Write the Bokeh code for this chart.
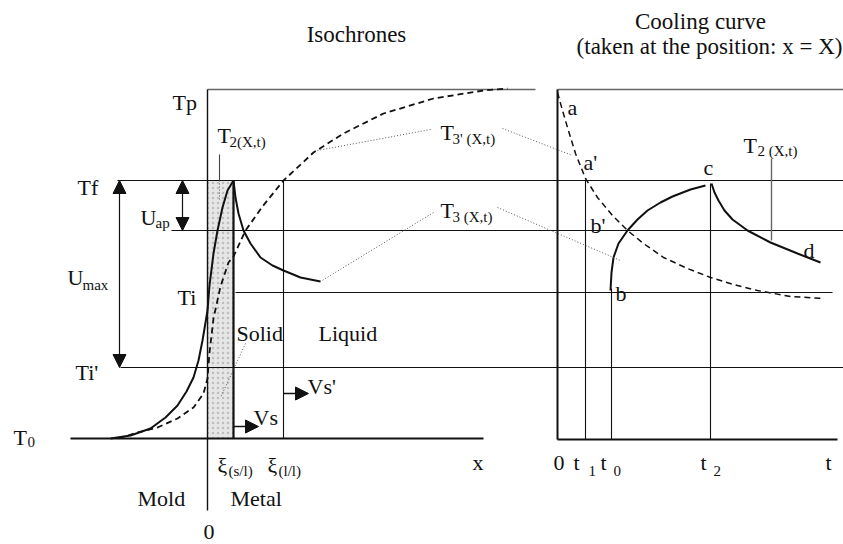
from bokeh.plotting import figure
from bokeh.models import Range1d, Arrow, NormalHead, ColumnDataSource
from bokeh.core.properties import value
from bokeh.embed import file_html
from bokeh.resources import INLINE

# ---------------------------------------------------------------------------
# Diagram data (screen-like units: x to the right, y downwards)
# ---------------------------------------------------------------------------
# temperature levels
y_Tp, y_Tf, y_Uap, y_Ti, y_Ti2, y_T0 = 89, 180, 230, 292, 367, 438
y_T0_right = 439

# positions on the isochrone panel
x_zero = 207          # mold / metal interface (x = 0)
x_sl = 233            # solid / liquid front
x_ll = 283            # liquid / liquid front
x_mark_left = 219     # position X of the T2 reading

# positions on the cooling-curve panel
x_origin = 557
x_t1, x_t0, x_t2 = 585, 611, 710
x_mark_right = 771

# isochrone T2(X,t): mold and solid shell
iso_t2_x = [110, 130, 150, 165, 177, 186, 193, 198, 202, 207, 209, 213, 217, 222, 227, 233]
iso_t2_y = [438, 435, 428, 417, 405, 391, 377, 360, 340, 310, 285, 253, 230, 207, 190, 180]

# isochrone T3'(X,t): dashed, rising to the pouring temperature
iso_t3p_x = [118, 137, 157, 177, 193, 203, 207, 209, 213, 220, 228, 233, 245, 262, 283, 313, 343, 383, 433, 483, 507]
iso_t3p_y = [438, 432, 427, 418, 407, 393, 378, 352, 318, 286, 262, 256, 230, 206, 180, 152, 133, 113, 98, 90, 88]

# isochrone T3(X,t): liquid ahead of the front
iso_t3_x = [233, 235, 238, 243, 250, 260, 272, 283, 300, 320]
iso_t3_y = [180, 197, 213, 230, 243, 257, 265, 270, 277, 281]

# cooling curve: dashed a -> a' -> b'
cool_a_x = [557, 562, 567, 575, 585, 597, 612, 627, 643, 663, 687, 710, 733, 757, 790, 823]
cool_a_y = [92, 110, 127, 153, 178, 197, 215, 230, 243, 257, 268, 277, 284, 290, 296, 298]

# cooling curve: b -> c (recalescence)
cool_bc_x = [610, 611, 613, 618, 627, 637, 647, 660, 672, 690, 705]
cool_bc_y = [290, 272, 257, 243, 230, 219, 210, 202, 196, 189, 185]

# cooling curve: c -> d
cool_cd_x = [711, 714, 718, 724, 732, 747, 770, 797, 820]
cool_cd_y = [183, 192, 200, 210, 219, 230, 242, 253, 262]

# ---------------------------------------------------------------------------
W, H = 843, 544
p = figure(width=W, height=H, x_range=Range1d(0, W), y_range=Range1d(H, 0),
           x_axis_type=None, y_axis_type=None, toolbar_location=None,
           output_backend="svg", min_border=0, outline_line_color=None,
           background_fill_color="white", border_fill_color="white")
p.grid.visible = False

BLACK = "#111111"
GREY = "#666666"
FONT = "'Liberation Serif', 'Times New Roman', 'DejaVu Serif', serif"

# solid shell band
p.quad(left=x_zero, right=x_sl, top=y_Tf, bottom=y_T0,
       fill_color="#e6e6e6", line_color=None,
       hatch_pattern=".", hatch_color="#9a9a9a", hatch_alpha=0.55, hatch_scale=5)

# horizontal reference levels
h_x0 = [x_zero, x_origin, 117, 171, 235, 120]
h_x1 = [535, 843, 843, 843, 832, 843]
h_y = [y_Tp, y_Tp, y_Tf, y_Uap, y_Ti, y_Ti2]
h_col = [GREY, GREY, BLACK, BLACK, BLACK, BLACK]
h_w = [1.6, 1.6, 1.2, 1.2, 1.2, 1.2]
p.segment(x0=h_x0, y0=h_y, x1=h_x1, y1=h_y, line_color=h_col, line_width=h_w)

# baselines (T0)
p.segment(x0=[70, x_origin], y0=[y_T0, y_T0_right], x1=[483, 837], y1=[y_T0, y_T0_right],
          line_color=BLACK, line_width=2)

# vertical lines
v_x = [x_zero, x_sl, x_ll, x_mark_left, x_origin, x_t1, x_t0, x_t2, x_mark_right]
v_y0 = [y_Tp, y_Tf, y_Tf, 154, y_Tp, y_Tf, 288, 183, 158]
v_y1 = [510, y_T0, y_T0, y_Tf, y_T0_right, y_T0_right, y_T0_right, y_T0_right, 240]
v_col = [BLACK, BLACK, BLACK, "#444444", BLACK, BLACK, BLACK, BLACK, GREY]
v_w = [1.4, 2.2, 1.1, 1.1, 2.0, 1.1, 1.1, 1.1, 1.4]
p.segment(x0=v_x, y0=v_y0, x1=v_x, y1=v_y1, line_color=v_col, line_width=v_w)

# curves
p.line(iso_t2_x, iso_t2_y, line_color=BLACK, line_width=2)
p.line(iso_t3p_x, iso_t3p_y, line_color=BLACK, line_width=1.8, line_dash="6 4")
p.line(iso_t3_x, iso_t3_y, line_color=BLACK, line_width=2)
p.line(cool_a_x, cool_a_y, line_color=BLACK, line_width=1.5, line_dash="6 4")
p.line(cool_bc_x, cool_bc_y, line_color=BLACK, line_width=2)
p.line(cool_cd_x, cool_cd_y, line_color=BLACK, line_width=2)

# dotted leader lines
lead_x0 = [430, 502, 433, 497, 245, x_mark_left]
lead_y0 = [129, 128, 212, 207, 343, y_Tf]
lead_x1 = [317, 572, 320, 620, 220, x_mark_left]
lead_y1 = [150, 155, 281, 260, 397, 200]
p.segment(x0=lead_x0, y0=lead_y0, x1=lead_x1, y1=lead_y1,
          line_color="#555555", line_width=1, line_dash="1 2")

# arrows
def head():
    return NormalHead(size=13, fill_color=BLACK, line_color=BLACK, line_width=1)

p.add_layout(Arrow(x_start=119, y_start=y_Tf, x_end=119, y_end=y_Ti2,
                   start=head(), end=head(), line_color=BLACK, line_width=1.2))
p.add_layout(Arrow(x_start=182, y_start=y_Tf, x_end=182, y_end=y_Uap,
                   start=head(), end=head(), line_color=BLACK, line_width=1.2))
p.add_layout(Arrow(x_start=x_sl, y_start=426, x_end=x_sl + 25, y_end=426,
                   end=head(), line_color=BLACK, line_width=1.5))
p.add_layout(Arrow(x_start=x_ll, y_start=393, x_end=x_ll + 25, y_end=393,
                   end=head(), line_color=BLACK, line_width=1.5))

# ---------------------------------------------------------------------------
# texts
# ---------------------------------------------------------------------------
def put(xs, ys, texts, size, align="left"):
    src = ColumnDataSource(dict(x=xs, y=ys, t=texts))
    p.text(x="x", y="y", text="t", source=src, text_font=value(FONT),
           text_font_size=value(size), text_color=BLACK,
           text_align=align, text_baseline="alphabetic")

# titles
put([356, 700], [34, 21], ["Isochrones", "Cooling curve"], "23px", "center")
put([842], [46], ["(taken at the position: x = X)"], "23px", "right")

# main labels
main_t = ["Tp", "Tf", "Ti", "Ti'", "T", "U", "U", "T", "T", "T",
          "Solid", "Liquid", "Vs", "Vs'", "ξ", "ξ", "x", "Mold", "Metal", "0",
          "a", "a'", "b'", "b", "c", "d", "T", "0", "t", "t", "t", "t"]
main_x = [172, 77, 177, 75, 13, 140, 67, 217, 440, 440,
          236, 318, 253, 307, 217, 267, 472, 137, 230, 203,
          567, 583, 590, 615, 703, 803, 743, 553, 573, 600, 700, 825]
main_y = [102, 187, 297, 372, 437, 217, 277, 135, 132, 210,
          333, 333, 417, 386, 465, 465, 462, 498, 498, 531,
          107, 162, 225, 293, 167, 250, 145, 462, 462, 462, 462, 462]
put(main_x, main_y, main_t, "22px")

# subscripts
sub_t = ["0", "ap", "max", "2(X,t)", "3' (X,t)", "3 (X,t)", "(s/l)", "(l/l)",
         "2 (X,t)", "1", "0", "2"]
sub_x = [27, 155, 82, 229, 452, 452, 228, 278, 757, 588, 613, 713]
sub_y = [441, 222, 284, 141, 138, 216, 470, 470, 150, 470, 470, 470]
put(sub_x, sub_y, sub_t, "15px")

open("out.html", "w").write(file_html(p, INLINE))
